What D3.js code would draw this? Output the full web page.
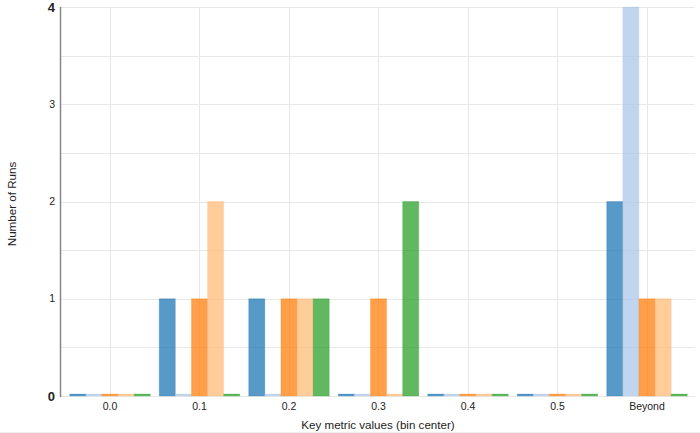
<!DOCTYPE html>
<html lang="en">
  <head>
    <meta charset="UTF-8" />
    <title>Key metric histogram</title>
    <style>
      body { margin: 0; background: #fff; }
      svg { display: block; font-family: "Liberation Sans", Arial, sans-serif; }
    </style>
  </head>
  <body>
    <svg id="chart" width="700" height="433"></svg>
    <script src="https://cdnjs.cloudflare.com/ajax/libs/d3/7.8.5/d3.min.js"></script>
    <script>
      // bins and one count per series
      const bins = ["0.0", "0.1", "0.2", "0.3", "0.4", "0.5", "Beyond"];
      const seriesA = [0, 1, 1, 0, 0, 0, 2];
      const seriesB = [0, 0, 0, 0, 0, 0, 4];
      const seriesC = [0, 1, 1, 1, 0, 0, 1];
      const seriesD = [0, 2, 1, 0, 0, 0, 1];
      const seriesE = [0, 0, 1, 2, 0, 0, 0];
      const yTicks = [0, 1, 2, 3, 4];

      const series = [seriesA, seriesB, seriesC, seriesD, seriesE];
      const colors = ["#1f77b4", "#aec7e8", "#ff7f0e", "#ffbb78", "#2ca02c"];

      const svg = d3.select("#chart");
      const m = { left: 60, right: 695, top: 7, bottom: 396 };

      const x = d3.scaleBand()
        .domain(bins)
        .range([65.25, 691.75])
        .paddingInner(0.1)
        .paddingOuter(0.05);
      const xs = d3.scaleBand()
        .domain(d3.range(series.length))
        .range([0, x.bandwidth()]);
      const y = d3.scaleLinear().domain([0, 4]).range([m.bottom, m.top]);

      // grid
      svg.append("g")
        .selectAll("line")
        .data(d3.range(0, 4.01, 0.5))
        .join("line")
        .attr("x1", m.left).attr("x2", m.right)
        .attr("y1", d => Math.round(y(d)) + 0.5)
        .attr("y2", d => Math.round(y(d)) + 0.5)
        .attr("stroke", "#e8e8e8");
      svg.append("g")
        .selectAll("line")
        .data(bins)
        .join("line")
        .attr("x1", d => Math.round(x(d) + x.bandwidth() / 2) + 0.5)
        .attr("x2", d => Math.round(x(d) + x.bandwidth() / 2) + 0.5)
        .attr("y1", m.top).attr("y2", m.bottom)
        .attr("stroke", "#e8e8e8");

      // bars
      const groups = svg.append("g")
        .selectAll("g")
        .data(bins)
        .join("g")
        .attr("transform", d => `translate(${x(d)},0)`);
      groups.selectAll("rect")
        .data((b, i) => series.map((s, k) => ({ k, v: s[i] })))
        .join("rect")
        .attr("x", d => xs(d.k))
        .attr("width", xs.bandwidth())
        .attr("y", d => Math.min(y(d.v), m.bottom - 2))
        .attr("height", d => Math.max(m.bottom - y(d.v), 2))
        .attr("fill", d => colors[d.k])
        .attr("fill-opacity", 0.75)
        .attr("stroke", d => colors[d.k])
        .attr("stroke-opacity", 0.25)
        .attr("stroke-width", 1);

      // y axis
      svg.append("line")
        .attr("x1", m.left + 0.5).attr("x2", m.left + 0.5)
        .attr("y1", m.top).attr("y2", m.bottom + 1)
        .attr("stroke", "#888").attr("stroke-width", 1.5);
      svg.append("g")
        .selectAll("text")
        .data(yTicks)
        .join("text")
        .attr("x", m.left - 5)
        .attr("y", d => y(d))
        .attr("dy", "0.35em")
        .attr("text-anchor", "end")
        .attr("font-size", d => (d === 0 || d === 4) ? 13 : 10.5)
        .attr("font-weight", d => (d === 0 || d === 4) ? "bold" : "normal")
        .attr("fill", "#222")
        .text(d => d);

      // x tick labels
      svg.append("g")
        .selectAll("text")
        .data(bins)
        .join("text")
        .attr("x", d => x(d) + x.bandwidth() / 2)
        .attr("y", 410)
        .attr("text-anchor", "middle")
        .attr("font-size", 10.5)
        .attr("fill", "#222")
        .text(d => d);

      // titles
      svg.append("text")
        .attr("x", 378).attr("y", 429)
        .attr("text-anchor", "middle")
        .attr("font-size", 11.6)
        .attr("fill", "#222")
        .text("Key metric values (bin center)");
      svg.append("text")
        .attr("transform", "translate(16,204) rotate(-90)")
        .attr("text-anchor", "middle")
        .attr("font-size", 11.6)
        .attr("fill", "#222")
        .text("Number of Runs");

      // faint bottom edge
      svg.append("line")
        .attr("x1", 0).attr("x2", 700)
        .attr("y1", 432.5).attr("y2", 432.5)
        .attr("stroke", "#eee");
    </script>
  </body>
</html>
